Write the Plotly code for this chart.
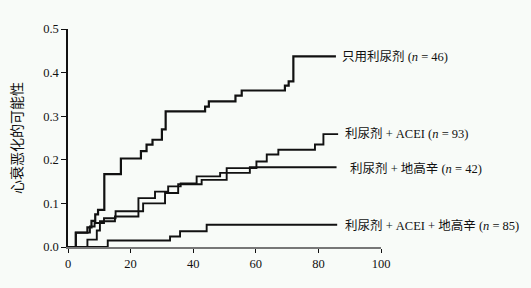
import plotly.graph_objects as go

# Kaplan-Meier style step curves (time, cumulative probability)
a_t = [0, 2.5, 6.2, 7.5, 8.7, 9.6, 11.6, 16.9, 23.3, 25.1, 27.0, 30.0, 31.2, 43.8, 45.0, 53.5, 55.5, 69.3, 70.5, 72.0, 85.6]
a_y = [0, 0.033, 0.045, 0.060, 0.075, 0.085, 0.167, 0.203, 0.220, 0.235, 0.246, 0.270, 0.311, 0.322, 0.334, 0.347, 0.359, 0.370, 0.380, 0.437, 0.437]

b_t = [0, 2.5, 7.0, 8.5, 11.5, 15.2, 24.0, 31.0, 35.2, 42.7, 50.7, 60.2, 63.5, 67.2, 78.9, 81.6, 86.3]
b_y = [0, 0.033, 0.047, 0.055, 0.066, 0.082, 0.100, 0.124, 0.144, 0.154, 0.181, 0.196, 0.212, 0.223, 0.235, 0.259, 0.259]

c_t = [0, 6.2, 9.2, 10.2, 15.0, 22.5, 27.8, 32.0, 36.0, 41.1, 48.6, 58.1, 85.8]
c_y = [0, 0.017, 0.038, 0.059, 0.070, 0.112, 0.127, 0.139, 0.146, 0.162, 0.170, 0.183, 0.183]

d_t = [0, 12.7, 32.6, 35.8, 44.3, 86.0]
d_y = [0, 0.015, 0.024, 0.036, 0.051, 0.051]

labels = ["只用利尿剂 (<i>n</i> = 46)",
          "利尿剂 + ACEI (<i>n</i> = 93)",
          "利尿剂 + 地高辛 (<i>n</i> = 42)",
          "利尿剂 + ACEI + 地高辛 (<i>n</i> = 85)"]

x_ticks = [0, 20, 40, 60, 80, 100]
y_ticks = [0.0, 0.1, 0.2, 0.3, 0.4, 0.5]

FONT = "Liberation Serif, Noto Sans CJK SC, serif"

fig = go.Figure()
for t, y, w in [(a_t, a_y, 2.2), (b_t, b_y, 1.9), (c_t, c_y, 1.9), (d_t, d_y, 1.9)]:
    fig.add_trace(go.Scatter(x=t, y=y, mode="lines", line=dict(shape="hv", color="#111", width=w),
                             showlegend=False, hoverinfo="skip"))

label_pos = [(87.0, 0.437), (87.7, 0.261), (89.6, 0.181), (87.7, 0.049)]
for (lx, ly), txt in zip(label_pos, labels):
    fig.add_annotation(x=lx, y=ly, xref="x", yref="y", text=txt, showarrow=False,
                       xanchor="left", yanchor="middle",
                       font=dict(family=FONT, size=12.5, color="#111"))

fig.update_layout(
    width=531, height=288,
    margin=dict(l=68, r=150, t=29, b=41),
    paper_bgcolor="#f8fbf8", plot_bgcolor="#f8fbf8",
    font=dict(family=FONT, size=12, color="#111"),
)
fig.update_xaxes(range=[0, 100], tickvals=x_ticks, ticks="outside", ticklen=4, tickwidth=1.2,
                 tickcolor="#111", showline=True, linecolor="#777", linewidth=2,
                 showgrid=False, zeroline=False, tickfont=dict(family=FONT, size=12.5))
fig.update_yaxes(range=[0, 0.5], tickvals=y_ticks, tickformat=".1f", ticks="outside", ticklen=5,
                 tickwidth=1.2, tickcolor="#111", showline=True, linecolor="#111", linewidth=1.5,
                 showgrid=False, zeroline=False, tickfont=dict(family=FONT, size=12.5),
                 title=dict(text="心衰恶化的可能性", font=dict(family="Noto Sans CJK SC", size=14), standoff=17))

fig.write_html("out.html")
